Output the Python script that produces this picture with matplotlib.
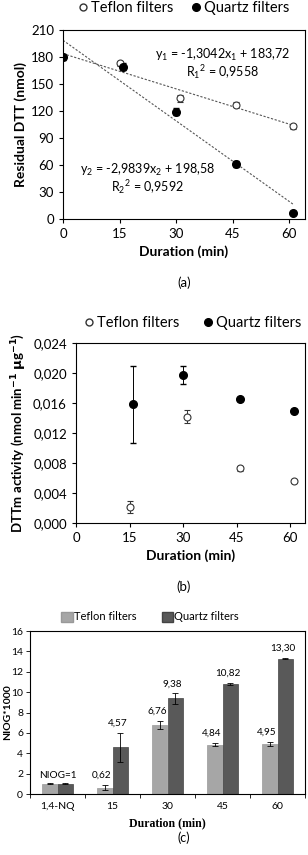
import numpy as np
import matplotlib; matplotlib.use("Agg")
import matplotlib.pyplot as plt
from matplotlib.patches import Patch

plt.rcParams["font.family"] = ["Lato", "DejaVu Sans"]
plt.rcParams["mathtext.fontset"] = "custom"
plt.rcParams["mathtext.rm"] = "Lato"
plt.rcParams["mathtext.it"] = "Lato"

# (a) residual DTT
a_tef_x = [15, 31, 46, 61]
a_tef_y = [173, 134, 127, 103]
a_tef_e = [3, 4, 3, 3]
a_qtz_x = [0, 16, 30, 46, 61]
a_qtz_y = [180, 169, 119, 61, 7]
a_qtz_e = [3, 4, 4, 3, 2]
fit1 = (-1.3042, 183.72)
fit2 = (-2.9839, 198.58)

# (b) DTTm activity
b_tef_x = [15, 31, 46, 61]
b_tef_y = [0.0022, 0.0142, 0.0073, 0.0056]
b_tef_e = [0.0008, 0.0009, 0.0003, 0.0002]
b_qtz_x = [16, 30, 46, 61]
b_qtz_y = [0.0158, 0.0197, 0.0165, 0.0150]
b_qtz_e = [0.0051, 0.0012, 0.0002, 0.0002]

# (c) NIOG
c_cats = ["1,4-NQ", "15", "30", "45", "60"]
c_tef = [1.0, 0.62, 6.76, 4.84, 4.95]
c_tef_e = [0.05, 0.25, 0.4, 0.15, 0.2]
c_qtz = [1.0, 4.57, 9.38, 10.82, 13.30]
c_qtz_e = [0.05, 1.45, 0.5, 0.1, 0.05]
c_tef_lab = ["", "0,62", "6,76", "4,84", "4,95"]
c_qtz_lab = ["", "4,57", "9,38", "10,82", "13,30"]

W, H = 308, 855
fig = plt.figure(figsize=(W / 100, H / 100), dpi=100)

def box(l, t, r, b):
    return [l / W, 1 - b / H, (r - l) / W, (b - t) / H]

def comma(fmt):
    return lambda v, p: fmt.format(v).replace(".", ",")

# ---------- (a)
ax = fig.add_axes(box(63, 30, 305, 219))
xs = np.array([0, 61])
ax.plot(xs, fit1[0] * xs + fit1[1], ls=(0, (2, 1.5)), color="#555", lw=0.8)
ax.plot(xs, fit2[0] * xs + fit2[1], ls=(0, (2, 1.5)), color="#555", lw=0.8)
ax.errorbar(a_tef_x, a_tef_y, yerr=a_tef_e, fmt="o", mfc="white", mec="#333", color="#333",
            ms=5, mew=0.8, elinewidth=0.7, capsize=2)
ax.errorbar(a_qtz_x, a_qtz_y, yerr=a_qtz_e, fmt="o", mfc="black", mec="black", color="black",
            ms=5.5, elinewidth=0.7, capsize=2)
ax.set_xlim(0, 64.2); ax.set_ylim(0, 210)
ax.set_xticks([0, 15, 30, 45, 60]); ax.set_yticks(range(0, 211, 30))
ax.tick_params(labelsize=9.5, length=3, width=0.8)
ax.set_ylabel("Residual DTT (nmol)", fontsize=10, fontweight="bold", labelpad=3)
ax.set_xlabel("Duration (min)", fontsize=10, fontweight="bold", labelpad=4)
ax.text(0.66, 0.87, r"y$_1$ = -1,3042x$_1$ + 183,72", transform=ax.transAxes, ha="center", va="center", fontsize=9)
ax.text(0.66, 0.78, r"R$_1$$^2$ = 0,9558", transform=ax.transAxes, ha="center", va="center", fontsize=9)
ax.text(0.35, 0.26, r"y$_2$ = -2,9839x$_2$ + 198,58", transform=ax.transAxes, ha="center", va="center", fontsize=9)
ax.text(0.35, 0.17, r"R$_2$$^2$ = 0,9592", transform=ax.transAxes, ha="center", va="center", fontsize=9)
fig.text(184 / W, 1 - 283 / H, "(a)", ha="center", va="center", fontsize=9.5)
hA = [plt.Line2D([], [], ls="", marker="o", mfc="white", mec="#333", ms=5),
      plt.Line2D([], [], ls="", marker="o", mfc="black", mec="black", ms=5.5)]
fig.legend(hA, ["Teflon filters", "Quartz filters"], loc="center", bbox_to_anchor=(184 / W, 1 - 8 / H),
           ncol=2, frameon=False, fontsize=10.5, handlelength=0.6, handletextpad=0.3, columnspacing=1.2)

# ---------- (b)
ax = fig.add_axes(box(76, 343, 305, 523))
ax.errorbar(b_tef_x, b_tef_y, yerr=b_tef_e, fmt="o", mfc="white", mec="#333", color="#333",
            ms=5, mew=0.8, elinewidth=0.7, capsize=2)
ax.errorbar(b_qtz_x, b_qtz_y, yerr=b_qtz_e, fmt="o", mfc="black", mec="black", color="black",
            ms=5.5, elinewidth=0.7, capsize=2)
ax.set_xlim(0, 64.2); ax.set_ylim(0, 0.024)
ax.set_xticks([0, 15, 30, 45, 60]); ax.set_yticks(np.arange(0, 0.0241, 0.004))
ax.yaxis.set_major_formatter(comma("{:.3f}"))
ax.tick_params(labelsize=9.5, length=3, width=0.8)
ax.set_ylabel(r"DTTm activity (nmol min$^{\mathbf{-1}}$ $\mathbf{\mu}$g$^{\mathbf{-1}}$)", fontsize=9.5, fontweight="bold", labelpad=3)
ax.set_xlabel("Duration (min)", fontsize=10, fontweight="bold", labelpad=4)
fig.text(184 / W, 1 - 587 / H, "(b)", ha="center", va="center", fontsize=9.5)
fig.legend(hA, ["Teflon filters", "Quartz filters"], loc="center", bbox_to_anchor=(193 / W, 1 - 323 / H),
           ncol=2, frameon=False, fontsize=10.5, handlelength=0.6, handletextpad=0.3, columnspacing=1.6)

# ---------- (c)
ax = fig.add_axes(box(30, 631, 305, 794))
x = np.arange(len(c_cats)); w = 0.28
ax.bar(x - w / 2, c_tef, w, color="#a6a6a6", edgecolor="#999", lw=0.5,
       yerr=c_tef_e, error_kw=dict(elinewidth=0.6, capsize=2, capthick=0.6, ecolor="black"))
ax.bar(x + w / 2, c_qtz, w, color="#595959", edgecolor="#444", lw=0.5,
       yerr=c_qtz_e, error_kw=dict(elinewidth=0.6, capsize=2, capthick=0.6, ecolor="black"))
for i in range(len(c_cats)):
    if c_tef_lab[i]:
        ax.text(x[i] - w / 2 - 0.05, c_tef[i] + c_tef_e[i] + 0.5, c_tef_lab[i], ha="center", va="bottom", fontsize=7.2)
        ax.text(x[i] + w / 2 - 0.05, c_qtz[i] + c_qtz_e[i] + 0.5, c_qtz_lab[i], ha="center", va="bottom", fontsize=7.2)
ax.text(x[0], 1.4, "NIOG=1", ha="center", va="bottom", fontsize=7.2)
ax.set_xlim(-0.5, len(c_cats) - 0.5); ax.set_ylim(0, 16)
ax.set_xticks(x); ax.set_xticklabels(c_cats)
ax.set_xticks(np.arange(-0.5, len(c_cats)), minor=True)
ax.tick_params(axis="x", which="major", length=0, pad=6)
ax.tick_params(axis="x", which="minor", length=3, width=0.6)
ax.set_yticks(range(0, 17, 2))
ax.tick_params(labelsize=7.5, width=0.6)
ax.tick_params(axis="y", length=3, pad=2)
ax.set_ylabel("NIOG*1000", fontsize=7.5, fontweight="bold")
ax.yaxis.set_label_coords(-8 / 275, 0.5)
ax.yaxis.label.set_ha("center"); ax.yaxis.label.set_va("center")
ax.yaxis.set_label_coords((8 - 30) / 275, 0.5)
ax.set_xlabel("Duration (min)", fontsize=8.5, fontweight="bold", family="Liberation Serif", labelpad=4)
fig.text(184 / W, 1 - 838 / H, "(c)", ha="center", va="center", fontsize=9)
hC = [Patch(facecolor="#a6a6a6", edgecolor="#999"), Patch(facecolor="#595959", edgecolor="#444")]
fig.legend(hC, ["Teflon filters", "Quartz filters"], loc="center", bbox_to_anchor=(150 / W, 1 - 617 / H),
           ncol=2, frameon=False, fontsize=8, handlelength=1.0, handleheight=1.0,
           handletextpad=0.1, columnspacing=2.3)

for a in fig.axes:
    for s in a.spines.values():
        s.set_linewidth(0.8)

fig.savefig("out.png", dpi=100)
